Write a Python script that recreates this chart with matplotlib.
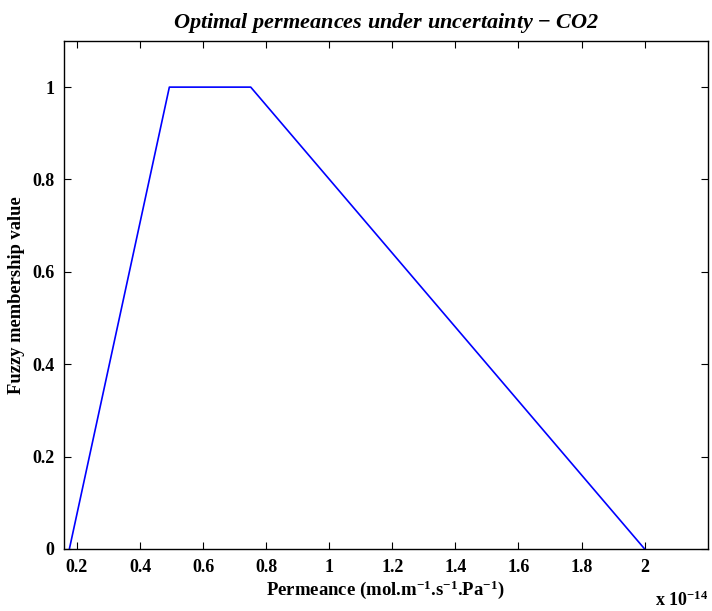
import numpy as np
import matplotlib
import matplotlib.pyplot as plt

font = {'family': 'Liberation Serif',
        'weight': 'bold',
        'size': 12}
matplotlib.rc('font', **font)
matplotlib.rc('axes', titleweight='bold', labelweight='bold')
matplotlib.rc('mathtext', fontset='custom', rm='Liberation Serif:bold',
              it='Liberation Serif:bold:italic', bf='Liberation Serif:bold')

# permeance in units of 1e-14 mol.m-1.s-1.Pa-1
permeance = [0.176, 0.493, 0.751, 2.0]
membership = [0.0, 1.0, 1.0, 0.0]

fig = plt.figure(figsize=(7.12, 6.11), dpi=100)
ax = fig.add_axes([0.0899, 0.1015, 0.9041, 0.8315])

ax.plot(permeance, membership, color='#0000ff', linewidth=1.2)

ax.set_xlim(0.159, 2.2)
ax.set_ylim(0, 1.1)
ax.set_xticks([0.2, 0.4, 0.6, 0.8, 1.0, 1.2, 1.4, 1.6, 1.8, 2.0])
ax.set_xticklabels(['0.2', '0.4', '0.6', '0.8', '1', '1.2', '1.4', '1.6', '1.8', '2'])
ax.set_yticks([0, 0.2, 0.4, 0.6, 0.8, 1.0])
ax.set_yticklabels(['0', '0.2', '0.4', '0.6', '0.8', '1'])
ax.tick_params(direction='in', top=True, right=True, length=5, width=0.8, labelsize=13, pad=7)
for s in ax.spines.values():
    s.set_linewidth(1.0)

ax.set_title('Optimal permeances under uncertainty $-$ CO2', fontstyle='italic',
             fontsize=16, pad=9)
ax.set_xlabel('Permeance (mol.m$^{-1}$.s$^{-1}$.Pa$^{-1}$)', fontsize=13.5, labelpad=2)
ax.set_ylabel('Fuzzy membership value', fontsize=13.3)
ax.yaxis.set_label_coords(-0.06, 0.5)

fig.text(0.92, 0.008, 'x 10$^{-14}$', fontsize=13)

plt.savefig('out.png', dpi=100)
